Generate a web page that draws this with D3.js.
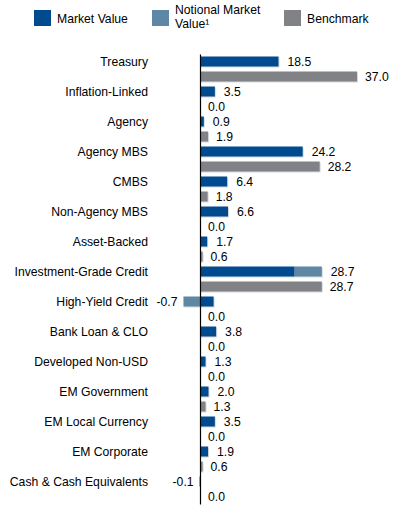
<!DOCTYPE html>
<html>
<head>
<meta charset="utf-8">
<script src="https://cdn.jsdelivr.net/npm/d3@7"></script>
<style>
  body { margin: 0; background: #fff; }
  text { font-family: "Liberation Sans", Arial, sans-serif; font-size: 12.2px; fill: #000; }
</style>
</head>
<body>
<div id="chart"></div>
<script>
// sector allocation, % of portfolio
var categories = ["Treasury", "Inflation-Linked", "Agency", "Agency MBS", "CMBS",
  "Non-Agency MBS", "Asset-Backed", "Investment-Grade Credit", "High-Yield Credit",
  "Bank Loan & CLO", "Developed Non-USD", "EM Government", "EM Local Currency",
  "EM Corporate", "Cash & Cash Equivalents"];
var marketValue = [18.5, 3.5, 0.9, 24.2, 6.4, 6.6, 1.7, 22.3, 3.2, 3.8, 1.3, 2.0, 3.5, 1.9, -0.1];
var notional    = [0, 0, 0, 0, 0, 0, 0, 6.4, -3.9, 0, 0, 0, 0, 0, 0];
var benchmark   = [37.0, 0.0, 1.9, 28.2, 1.8, 0.0, 0.6, 28.7, 0.0, 0.0, 0.0, 1.3, 0.0, 0.6, 0.0];
var legendLabels = [["Market Value"], ["Notional Market", "Value\u00B9"], ["Benchmark"]];

var colors = { mv: "#004a8f", notional: "#5d87a4", bm: "#808285" };

var w = 403, h = 514;
var svg = d3.select("#chart").append("svg")
  .attr("width", w)
  .attr("height", h);

var x = d3.scaleLinear().domain([0, 37]).range([200, 357]);
var y = d3.scaleBand().domain(categories).range([54, 504]);
var sub = d3.scaleBand().domain(["mv", "bm"]).range([0, y.bandwidth()])
  .paddingInner(1 / 3).paddingOuter(1 / 6);

// plain hyphen for negatives, like the original
function fmt(v) { return d3.format(".1f")(v).replace("\u2212", "-"); }

var rows = categories.map(function (c, i) {
  return { cat: c, mv: marketValue[i], nt: notional[i], bm: benchmark[i] };
});

// legend
var legendX = [34, 152, 284];
var legend = svg.selectAll("g.legend")
  .data(legendLabels)
  .enter().append("g")
  .attr("class", "legend")
  .attr("transform", function (d, i) { return "translate(" + legendX[i] + ",10)"; });
legend.append("rect")
  .attr("width", 17).attr("height", 16)
  .attr("fill", function (d, i) { return [colors.mv, colors.notional, colors.bm][i]; });
legend.each(function (d) {
  var g = d3.select(this);
  d.forEach(function (line, j) {
    g.append("text")
      .attr("x", 23)
      .attr("y", d.length > 1 ? 0 + j * 14 : 9)
      .attr("dy", "0.35em")
      .text(line);
  });
});

// bars
function bar(x0, x1, yy, color) {
  svg.append("rect")
    .attr("x", Math.min(x(x0), x(x1)) + 1)
    .attr("y", yy + 1)
    .attr("width", Math.abs(x(x1) - x(x0)))
    .attr("height", sub.bandwidth())
    .attr("fill", "#d6d8da");
  svg.append("rect")
    .attr("x", Math.min(x(x0), x(x1)))
    .attr("y", yy)
    .attr("width", Math.abs(x(x1) - x(x0)))
    .attr("height", sub.bandwidth())
    .attr("fill", color);
}

rows.forEach(function (d) {
  var yMv = y(d.cat) + sub("mv");
  var yBm = y(d.cat) + sub("bm");
  bar(0, d.mv, yMv, colors.mv);
  if (d.nt !== 0) {
    var start = (d.nt > 0 && d.mv > 0) ? d.mv : 0;
    bar(start, start + d.nt, yMv, colors.notional);
  }
  bar(0, d.bm, yBm, colors.bm);
});

// category labels
svg.selectAll("text.cat")
  .data(rows)
  .enter().append("text")
  .attr("class", "cat")
  .attr("x", 148)
  .attr("y", function (d) { return y(d.cat) + sub("mv") + sub.bandwidth() / 2 + 0.5; })
  .attr("dy", "0.35em")
  .attr("text-anchor", "end")
  .text(function (d) { return d.cat; });

// value labels
svg.selectAll("text.mv")
  .data(rows)
  .enter().append("text")
  .attr("class", "mv")
  .attr("x", function (d) {
    var net = d.mv + d.nt;
    if (net < 0) {
      var lo = Math.min(0, d.mv, d.nt, d.mv + d.nt);
      return x(lo) - 6;
    }
    var hi = Math.max(0, d.mv, d.mv + Math.max(d.nt, 0));
    return x(hi) + 9;
  })
  .attr("y", function (d) { return y(d.cat) + sub("mv") + sub.bandwidth() / 2; })
  .attr("dy", "0.35em")
  .attr("text-anchor", function (d) { return d.mv + d.nt < 0 ? "end" : "start"; })
  .text(function (d) { return fmt(d.mv + d.nt); });

svg.selectAll("text.bm")
  .data(rows)
  .enter().append("text")
  .attr("class", "bm")
  .attr("x", function (d) { return x(Math.max(0, d.bm)) + 8; })
  .attr("y", function (d) { return y(d.cat) + sub("bm") + sub.bandwidth() / 2; })
  .attr("dy", "0.35em")
  .text(function (d) { return fmt(d.bm); });

// zero axis line
svg.append("g")
  .attr("transform", "translate(" + x(0) + ",0)")
  .call(d3.axisLeft(y).tickSize(0).tickFormat(""))
  .select(".domain")
  .attr("stroke", "#000")
  .attr("stroke-width", 1.2);
</script>
</body>
</html>
